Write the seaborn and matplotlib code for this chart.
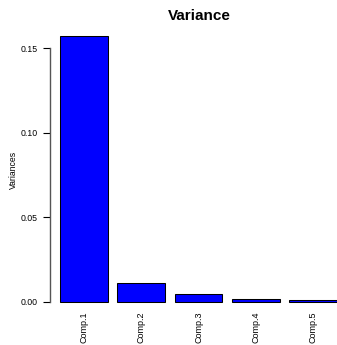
import matplotlib
matplotlib.use("Agg")
import matplotlib.pyplot as plt
import seaborn as sns
import pandas as pd

components = ["Comp.1", "Comp.2", "Comp.3", "Comp.4", "Comp.5"]
variances = [0.1571, 0.0111, 0.0043, 0.0016, 0.0012]
yticks = [0.00, 0.05, 0.10, 0.15]
ytick_labels = ["0.00", "0.05", "0.10", "0.15"]

sns.set_style("white")
plt.rcParams["font.family"] = ["Liberation Sans", "DejaVu Sans"]
plt.rcParams["text.color"] = "black"
plt.rcParams["xtick.color"] = "black"
plt.rcParams["ytick.color"] = "black"
plt.rcParams["axes.labelcolor"] = "black"

df = pd.DataFrame({"comp": components, "var": variances})

W, H = 337, 345
fig = plt.figure(figsize=(W / 100, H / 100), dpi=100)
ax = fig.add_axes([50 / W, (H - 312.3) / H, (348 - 50) / W, (312.3 - 25.4) / H])

sns.barplot(data=df, x="comp", y="var", color="#0000FF", saturation=1,
            width=1 / 1.2, edgecolor="black", linewidth=0.75, ax=ax)

ax.set_xlim(-0.591, 4.608)
ax.set_ylim(-0.0063, 0.1634)
ax.set_xlabel("")
ax.set_ylabel("")
ax.set_yticks(yticks)
ax.set_yticklabels(ytick_labels, fontsize=6.3)
ax.tick_params(axis="y", direction="out", length=5, width=0.8, color="black", pad=3.6, left=True)
ax.tick_params(axis="x", length=0, pad=-0.5, labelsize=6.5, labelrotation=90)
for lab in ax.get_xticklabels():
    lab.set_verticalalignment("top")

for s in ["top", "right", "bottom"]:
    ax.spines[s].set_visible(False)
ax.spines["left"].set_bounds(0, 0.15)
ax.spines["left"].set_color("#555555")
ax.spines["left"].set_linewidth(1.0)

fig.text(199 / W, 1 - 16 / H, "Variance", ha="center", va="center",
         fontsize=11, fontweight="bold", color="black")
fig.text(13.5 / W, 1 - 170 / H, "Variances", ha="center", va="center",
         rotation=90, fontsize=6.2, color="black")

fig.savefig("out.png", dpi=100)
